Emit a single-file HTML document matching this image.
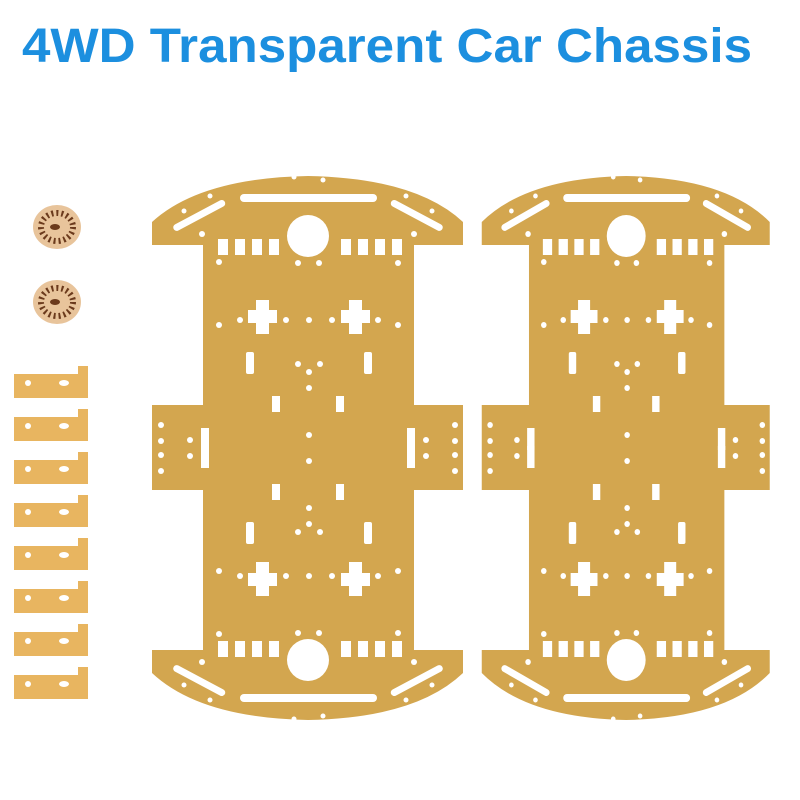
<!DOCTYPE html>
<html><head><meta charset="utf-8"><style>html,body{margin:0;padding:0;background:#fff}svg{display:block}</style></head>
<body>
<svg width="800" height="800" viewBox="0 0 800 800" xmlns="http://www.w3.org/2000/svg">
<rect width="800" height="800" fill="#fff"/>
<text x="22" y="62" font-family="Liberation Sans, sans-serif" font-weight="bold" font-size="48" fill="#1c8fdf" textLength="730" lengthAdjust="spacingAndGlyphs">4WD Transparent Car Chassis</text>
<defs>
<g id="ch">
<path d="M152,245 L152,222 Q200,178 308,176 Q416,178 463,222 L463,245 L414,245 L414,405 L463,405 L463,490 L414,490 L414,650 L463,650 L463,673 Q416,718 308,720 Q200,718 152,673 L152,650 L203,650 L203,490 L152,490 L152,405 L203,405 L203,245 Z" fill="#d3a64f"/>
<g fill="#fff">
<g id="half">
<circle cx="308" cy="236" r="21"/>
<rect x="240" y="194" width="137" height="8" rx="4"/>
<rect x="170" y="212" width="58" height="7" rx="3.5" transform="rotate(-28 199 215)"/>
<rect x="388" y="212" width="58" height="7" rx="3.5" transform="rotate(28 417 215)"/>
<rect x="218" y="239" width="10" height="16"/><rect x="235" y="239" width="10" height="16"/><rect x="252" y="239" width="10" height="16"/><rect x="269" y="239" width="10" height="16"/>
<rect x="341" y="239" width="10" height="16"/><rect x="358" y="239" width="10" height="16"/><rect x="375" y="239" width="10" height="16"/><rect x="392" y="239" width="10" height="16"/>
<path d="M256,300h13v10h8v13h-8v11h-13v-11h-8v-13h8z"/>
<path d="M349,300h13v10h8v13h-8v11h-13v-11h-8v-13h8z"/>
<rect x="246" y="352" width="8" height="22" rx="2"/><rect x="364" y="352" width="8" height="22" rx="2"/>
<rect x="272" y="396" width="8" height="16"/><rect x="336" y="396" width="8" height="16"/>
<circle cx="219" cy="262" r="3"/><circle cx="298" cy="263" r="3"/><circle cx="319" cy="263" r="3"/><circle cx="398" cy="263" r="3"/>
<circle cx="219" cy="325" r="3"/><circle cx="240" cy="320" r="3"/><circle cx="286" cy="320" r="3"/><circle cx="309" cy="320" r="3"/><circle cx="332" cy="320" r="3"/><circle cx="378" cy="320" r="3"/><circle cx="398" cy="325" r="3"/>
<circle cx="298" cy="364" r="3"/><circle cx="320" cy="364" r="3"/><circle cx="309" cy="372" r="3"/><circle cx="309" cy="388" r="3"/>
<circle cx="294" cy="177" r="2.5"/><circle cx="323" cy="180" r="2.5"/><circle cx="210" cy="196" r="2.5"/><circle cx="406" cy="196" r="2.5"/><circle cx="184" cy="211" r="2.5"/><circle cx="432" cy="211" r="2.5"/>
<circle cx="202" cy="234" r="3"/><circle cx="414" cy="234" r="3"/>
<circle cx="161" cy="425" r="3"/><circle cx="161" cy="455" r="3"/><circle cx="190" cy="440" r="3"/><circle cx="455" cy="425" r="3"/><circle cx="455" cy="455" r="3"/><circle cx="426" cy="440" r="3"/>
<rect x="201" y="428" width="8" height="22"/><rect x="407" y="428" width="8" height="22"/>
<circle cx="309" cy="435" r="3"/>
</g>
<use href="#half" transform="translate(0,896) scale(1,-1)"/>
</g>
</g>
</defs>
<use href="#ch"/>
<g transform="translate(341,0) scale(0.926,1)"><use href="#ch"/></g>
<g>
<ellipse cx="57" cy="227" rx="24" ry="22" fill="#e8c49b"/>
<ellipse cx="57" cy="227" rx="16" ry="14" fill="none" stroke="#6b3a1c" stroke-width="6" stroke-dasharray="2 3"/>
<ellipse cx="55" cy="227" rx="5" ry="3" fill="#6b3a1c"/>
<ellipse cx="57" cy="302" rx="24" ry="22" fill="#e8c49b"/>
<ellipse cx="57" cy="302" rx="16" ry="14" fill="none" stroke="#6b3a1c" stroke-width="6" stroke-dasharray="2 3"/>
<ellipse cx="55" cy="302" rx="5" ry="3" fill="#6b3a1c"/>
</g>
<g fill="#e8b560">
<g id="br"><path d="M14,374 h64 v-8 h10 v32 h-74z"/><circle cx="28" cy="383" r="3" fill="#fff"/><ellipse cx="64" cy="383" rx="5" ry="3" fill="#fff"/></g>
<use href="#br" y="43"/><use href="#br" y="86"/><use href="#br" y="129"/><use href="#br" y="172"/><use href="#br" y="215"/><use href="#br" y="258"/><use href="#br" y="301"/>
</g>
</svg>
</body></html>
